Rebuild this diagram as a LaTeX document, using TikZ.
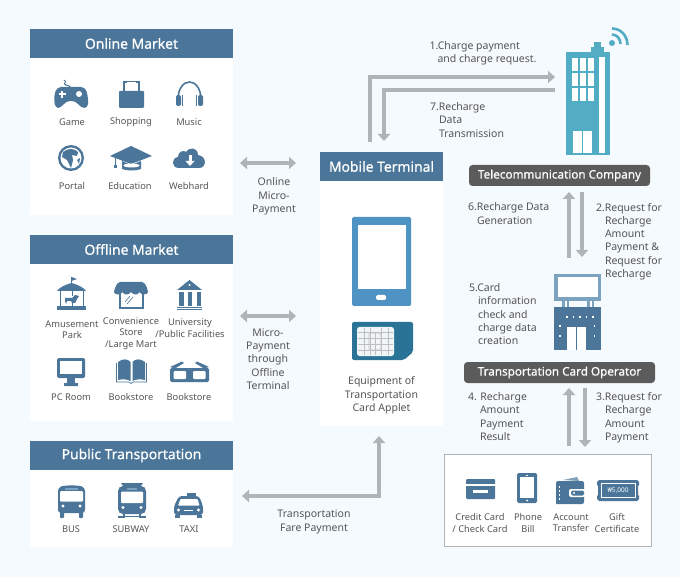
\documentclass[tikz,border=0pt]{standalone}
\usepackage{fontspec}
\setmainfont{Noto Sans}
\usetikzlibrary{arrows.meta}
\definecolor{bgc}{HTML}{F5FAFE}
\definecolor{hdr}{HTML}{4C7699}
\definecolor{txtc}{HTML}{555555}
\definecolor{arr}{HTML}{B0B4B6}
\definecolor{tele}{HTML}{52ADC4}
\definecolor{dark}{HTML}{5B5B5B}
\definecolor{bill}{HTML}{7BA3C0}
\definecolor{phonec}{HTML}{4F92C4}
\definecolor{chipc}{HTML}{2A7396}
\newfontfamily\tagfont[FakeBold=0.6]{Noto Sans}
\newcommand{\hd}[1]{\raisebox{-1pt}{#1}}
\tikzset{
 panel/.style={fill=white,inner sep=0pt,outer sep=0pt,anchor=north west},
 head/.style={fill=hdr,text=white,inner sep=0pt,outer sep=0pt,anchor=north west,font=\tagfont\fontsize{13.9}{16}\selectfont},
 tag/.style={fill=dark,text=white,rounded corners=3.5pt,inner sep=0pt,outer sep=0pt,anchor=north west,font=\tagfont\fontsize{11.7}{14}\selectfont},
 lbl/.style={text=txtc,inner sep=0pt,outer sep=0pt,align=center,font=\fontsize{9.3}{11.4}\selectfont},
 note/.style={text=txtc,inner sep=0pt,outer sep=0pt,align=center,font=\fontsize{10.5}{13.3}\selectfont},
 lnote/.style={note,align=left,anchor=north west},
 conn/.style={draw=arr,line width=4pt},
 tipa/.tip={Triangle[length=7pt,width=12pt]},
}
\begin{document}
\begin{tikzpicture}[x=1pt,y=-1pt]
\useasboundingbox (0,0) rectangle (680,577);
\fill[bgc] (0,0) rectangle (680,577);
% panels
\node[panel,minimum width=203pt,minimum height=186pt] (online) at (30,29) {};
\node[head,minimum width=203pt,minimum height=29pt] (onlineH) at (30,29) {\hd{Online Market}};
\node[panel,minimum width=203pt,minimum height=186pt] (offline) at (30,235) {};
\node[head,minimum width=203pt,minimum height=29pt] (offlineH) at (30,235) {\hd{Offline Market}};
\node[panel,minimum width=203pt,minimum height=106pt] (public) at (30,441) {};
\node[head,minimum width=203pt,minimum height=29pt] (publicH) at (30,441) {\hd{Public Transportation}};
\node[panel,minimum width=123pt,minimum height=274pt] (mobile) at (320,152) {};
\node[head,minimum width=123pt,minimum height=29pt] (mobileH) at (320,152) {\hd{Mobile Terminal}};
\node[panel,draw=arr,line width=1pt,minimum width=207pt,minimum height=92pt] (pay) at (444.5,454.5) {};
\node[tag,minimum width=181pt,minimum height=21pt] (telecom) at (469,165) {\hd{Telecommunication Company}};
\node[tag,minimum width=191pt,minimum height=21pt] (operator) at (464,362) {\hd{Transportation Card Operator}};
% coordinates for connectors
\coordinate (onA) at (240,163); \coordinate (onB) at (296,163);
\coordinate (ofA) at (240,316); \coordinate (ofB) at (296,316);
\coordinate (trA) at (242,496); \coordinate (trB) at (379,436); \coordinate (trC) at (379,496);
\coordinate (c1a) at (370,142); \coordinate (c1b) at (370,77); \coordinate (c1c) at (555,77);
\coordinate (c7a) at (555,90); \coordinate (c7b) at (384,90); \coordinate (c7c) at (384,141);
\coordinate (u6a) at (569,258); \coordinate (u6b) at (569,192);
\coordinate (d2a) at (582,192); \coordinate (d2b) at (582,257);
\coordinate (u4a) at (569,446); \coordinate (u4b) at (569,388);
\coordinate (d3a) at (585,388); \coordinate (d3b) at (585,447);
\draw[conn,{tipa}-{tipa}] (onA) -- (onB);
\draw[conn,{tipa}-{tipa}] (ofA) -- (ofB);
\draw[conn,{tipa}-{tipa}] (trA) -- (trC) -- (trB);
\draw[conn,-{tipa}] (c1a) -- (c1b) -- (c1c);
\draw[conn,-{tipa}] (c7a) -- (c7b) -- (c7c);
\draw[conn,-{tipa}] (u6a) -- (u6b);
\draw[conn,-{tipa}] (d2a) -- (d2b);
\draw[conn,-{tipa}] (u4a) -- (u4b);
\draw[conn,-{tipa}] (d3a) -- (d3b);
% --- Online labels
\node[lbl] (l1) at (72,122) {Game};
\node[lbl] (l2) at (131,122) {Shopping};
\node[lbl] (l3) at (189,122) {Music};
\node[lbl] (l4) at (72,186) {Portal};
\node[lbl] (l5) at (130,186) {Education};
\node[lbl] (l6) at (189,186) {Webhard};
% --- Offline labels
\node[lbl] (l7) at (72,329.5) {Amusement\\Park};
\node[lbl] (l8) at (131,333.5) {Convenience\\Store\\/Large Mart};
\node[lbl] (l9) at (190,328) {University\\/Public Facilities};
\node[lbl] (l10) at (71,397) {PC Room};
\node[lbl] (l11) at (131,397) {Bookstore};
\node[lbl] (l12) at (189,397) {Bookstore};
% --- Public labels
\node[lbl] (l13) at (71,529) {BUS};
\node[lbl] (l14) at (131,529) {SUBWAY};
\node[lbl] (l15) at (189,529) {TAXI};
% --- Middle notes
\node[note] (n1) at (274,196.5) {Online\\Micro-\\Payment};
\node[note] (n2) at (268,359) {Micro-\\Payment\\through\\Offline\\Terminal};
\node[note] (n3) at (314,522) {Transportation\\Fare Payment};
\node[lnote] (n4) at (429.5,41.5) {1.Charge payment\\\hspace*{8pt}and charge request.};
\node[lnote] (n5) at (430,102.5) {7.Recharge\\\hspace*{9pt}Data\\\hspace*{9pt}Transmission};
\node[lnote] (n6) at (468,203) {6.Recharge Data\\\hspace*{9pt}Generation};
\node[lnote] (n7) at (596,203) {2.Request for\\\hspace*{9pt}Recharge\\\hspace*{9pt}Amount\\\hspace*{9pt}Payment \&\\\hspace*{9pt}Request for\\\hspace*{9pt}Recharge};
\node[lnote] (n8) at (469,283.5) {5.Card\\\hspace*{9pt}information\\\hspace*{9pt}check and\\\hspace*{9pt}charge data\\\hspace*{9pt}creation};
\node[lnote] (n9) at (468,392.5) {4. Recharge\\\hspace*{12pt}Amount\\\hspace*{12pt}Payment\\\hspace*{12pt}Result};
\node[lnote] (n10) at (596,392.5) {3.Request for\\\hspace*{9pt}Recharge\\\hspace*{9pt}Amount\\\hspace*{9pt}Payment};
\node[note] (n11) at (381.5,395.5) {Equipment of\\Transportation\\Card Applet};
\node[lbl] (p1) at (480,523) {Credit Card\\/ Check Card};
\node[lbl] (p2) at (528,523) {Phone\\Bill};
\node[lbl] (p3) at (571,523) {Account\\Transfer};
\node[lbl] (p4) at (617,523) {Gift\\Certificate};
% ---------- ICONS: online
% game
\draw[hdr,line width=1pt] (64,80) .. controls (68,82) and (62,84) .. (66,85) .. controls (70,86) and (70,87) .. (71,88);
\fill[hdr,rounded corners=4pt] (55,108) -- (54,96) -- (57,87) -- (85,87) -- (88,96) -- (88,108) -- (81,108) -- (76,101) -- (66,101) -- (61,108) -- cycle;
\fill[white] (61,91) rectangle (63,98); \fill[white] (58.5,93.5) rectangle (65.5,95.5);
\fill[white] (79,94) circle (3pt);
% shopping
\fill[hdr,rounded corners=1pt] (119,91) rectangle (144,108);
\draw[hdr,line width=2pt] (124,91) -- (124,82.5) -- (127,82.5) (136,82.5) -- (139,82.5) -- (139,91);
\draw[hdr,line width=1pt] (127,82) -- (136,82);
% music
\draw[hdr,line width=1.6pt] (178,100) .. controls (178,76) and (201,76) .. (201,100);
\fill[hdr,rounded corners=2pt] (176,95) rectangle (181,106);
\fill[hdr,rounded corners=2pt] (198,95) rectangle (203,106);
\draw[hdr,line width=.8pt] (182.5,95) -- (182.5,106) (196.5,95) -- (196.5,106);
% portal
\fill[hdr] (71,158) circle (13pt);
\fill[white] (71,158) circle (10.5pt);
\fill[hdr] (63,152) .. controls (68,148) and (74,148) .. (78,152) -- (77,156) -- (72,155) -- (73,160) -- (71,168) -- (67,160) -- (62,157) -- cycle;
\fill[hdr] (77,160) -- (80,158) -- (79,164) -- cycle;
% education
\fill[hdr] (131,146) -- (152,156) -- (131,164) -- (110,156) -- cycle;
\fill[hdr] (122,161) -- (131,165) -- (141,161) -- (141,169) .. controls (136,171) and (127,171) .. (122,169) -- cycle;
\fill[white] (131.5,165.5) ellipse (8pt and 2pt);
\draw[hdr,line width=1pt] (115,158) -- (115,166);
\fill[hdr] (113.5,165) rectangle (116.5,168);
% webhard
\fill[hdr] (179,168) .. controls (171,168) and (171,158) .. (178,157) .. controls (178,151) and (184,150) .. (186,152) .. controls (190,146) and (198,148) .. (198,155) .. controls (207,156) and (207,168) .. (199,168) -- cycle;
\fill[white] (188.5,155) rectangle (191.5,161); \fill[white] (185.5,161) -- (194.5,161) -- (190,166) -- cycle;
% ---------- ICONS: offline
% carousel
\draw[hdr,line width=.8pt] (71.5,283) -- (71.5,277);
\fill[hdr] (71.5,277) -- (77,279) -- (71.5,281) -- cycle;
\fill[hdr] (71.5,283) .. controls (64,285) and (59,288) .. (57,291) -- (86,291) .. controls (84,288) and (79,285) .. (71.5,283) -- cycle;
\draw[hdr,line width=.9pt] (60,291) -- (60,307) (83,291) -- (83,307);
\fill[hdr] (57,306) rectangle (86,310);
\fill[hdr] (65,298) -- (72,298) -- (75,295) -- (79,296) -- (77,299) -- (75,303) -- (72,303) -- (71,301) -- (67,301) -- (66,304) -- (65,301) -- cycle;
\draw[hdr,line width=.6pt] (72,291) -- (72,296) (72,302) -- (72,306);
% store
\draw[hdr,line width=2pt] (120,292) -- (120,308) -- (143,308) -- (143,292);
\fill[hdr,rounded corners=2pt] (118,282) -- (144,282) -- (148,290) .. controls (148,295) and (141,295) .. (139.5,291) .. controls (138,295) and (133,295) .. (131,291) .. controls (129,295) and (124,295) .. (122.5,291) .. controls (121,295) and (114,295) .. (114,290) -- cycle;
\draw[hdr,line width=.6pt] (125,302) -- (130,296) (127,304) -- (133,297);
% university
\fill[hdr] (189.5,280) -- (202,290) -- (177,290) -- cycle;
\fill[white] (189.5,285) circle (1.2pt);
\fill[hdr] (179,292) rectangle (183.5,306);
\fill[hdr] (187.5,292) rectangle (192,306);
\fill[hdr] (196.5,292) rectangle (201,306);
\fill[hdr] (177,307) rectangle (202,308);
\fill[hdr] (177,309) rectangle (202,310);
% pc
\fill[hdr,rounded corners=1.5pt] (57,358) rectangle (85,378);
\fill[white] (60,361) rectangle (82,374);
\fill[hdr] (67,378) rectangle (75,383);
\fill[hdr,rounded corners=.5pt] (64,383) rectangle (78,386);
% book
\draw[hdr,line width=.7pt] (116.5,363) -- (116.5,382) -- (129,382) -- (131,383.5) -- (133,382) -- (146.5,382) -- (146.5,363);
\fill[hdr] (118,362) .. controls (123,358) and (128,359) .. (130.5,362) -- (130.5,381) .. controls (127,379) and (122,379) .. (118,380) -- cycle;
\fill[hdr] (132.5,362) .. controls (135,359) and (140,358) .. (145,362) -- (145,380) .. controls (141,379) and (136,379) .. (132.5,381) -- cycle;
% glasses
\fill[hdr,rounded corners=1.5pt] (170,368) rectangle (209,382);
\fill[white,rounded corners=1pt] (173.5,371) rectangle (186,379);
\fill[white,rounded corners=1pt] (193,371) rectangle (205.5,379);
\fill[hdr] (170,367) -- (182,361.5) -- (184,363) -- (175,368.5) -- cycle;
\fill[hdr] (209,367) -- (197,361.5) -- (195,363) -- (204,368.5) -- cycle;
% ---------- ICONS: public
% bus
\fill[hdr,rounded corners=3pt] (58,488) .. controls (64,485) and (79,485) .. (85,488) -- (85,513) -- (58,513) -- cycle;
\fill[hdr,rounded corners=1pt] (60,511) rectangle (64,518);
\fill[hdr,rounded corners=1pt] (79,511) rectangle (83,518);
\fill[white,rounded corners=1pt] (60,491) rectangle (83,501.5);
\fill[bill] (65,488) rectangle (78,489.5);
\fill[white] (63,506) circle (1.6pt); \fill[white] (80,506) circle (1.6pt);
% subway
\fill[hdr] (121,483) -- (143,483) -- (141,486) -- (123,486) -- cycle;
\fill[hdr,rounded corners=5pt] (118,486) rectangle (146,514);
\fill[white,rounded corners=1pt] (121,491.5) rectangle (143,503);
\fill[bill] (127,487.5) rectangle (137,490);
\fill[white] (123,507.5) circle (1.6pt); \fill[white] (141,507.5) circle (1.6pt);
\fill[hdr] (123,514) rectangle (125,516); \fill[hdr] (139,514) rectangle (141,516);
\fill[hdr] (118,516) -- (146,516) -- (146,518) -- (118,518) -- cycle;
\fill[white] (125,516.5) rectangle (139,518);
% taxi
\fill[hdr] (187,493) rectangle (196,496.5);
\fill[hdr,rounded corners=3pt] (179,496) -- (199,496) -- (203,506) -- (203,515) -- (174,515) -- (174,506) -- cycle;
\fill[white,rounded corners=.8pt] (180.5,499) -- (197.5,499) -- (199.5,505.5) -- (178,505.5) -- cycle;
\fill[white] (178.5,510) circle (1.6pt); \fill[white] (198.5,510) circle (1.6pt);
\fill[white] (184,509.5) rectangle (193,510.5);
\fill[hdr] (175,515) rectangle (180,518); \fill[hdr] (197,515) rectangle (202,518);
% ---------- Phone and chip
\fill[phonec,rounded corners=1.5pt] (352,217) rectangle (411,306);
\fill[white] (358,225) rectangle (406,289);
\fill[white,rounded corners=1.5pt] (376,295) rectangle (386,300);
\fill[chipc,rounded corners=2pt] (352,322) -- (413,322) -- (413,352) -- (404,360) -- (352,360) -- cycle;
\fill[white!93!chipc,rounded corners=2.5pt] (357,327) rectangle (394,356);
\draw[black!25,line width=.6pt] (358,332) -- (393,332) (358,338) -- (393,338) (358,344) -- (393,344) (358,350) -- (393,350)
 (364,328) -- (364,355) (370,328) -- (370,355) (381,328) -- (381,355) (388,328) -- (388,355);
\draw[black!25,line width=.6pt,rounded corners=2pt] (369,333) rectangle (381,350);
\draw[black!25,line width=.6pt] (375,333) -- (375,355);
% ---------- Telecom building
\fill[tele] (566,52) rectangle (610,155);
\fill[tele] (591,47) rectangle (604,52);
\fill[tele] (594,42) rectangle (601,47);
\foreach \wx in {572,580,588}{\foreach \wy in {58,73,88}{\fill[white] (\wx,\wy) rectangle +(6,13);}}
\fill[white] (599,57) rectangle (605,153);
\fill[white] (573,131) rectangle (592,153);
\draw[tele,line width=.5pt] (582.5,131) -- (582.5,153);
% wifi
\fill[tele] (612,43) circle (3pt);
\draw[tele,line width=2.6pt] (612,34.5) .. controls (617,34.5) and (620.5,39) .. (620.5,44);
\draw[tele,line width=2.6pt] (612,28.5) .. controls (621,28.5) and (627.5,36) .. (627.5,45);
% ---------- Operator building
\fill[bill] (554,274) rectangle (601,301);
\fill[white] (558,277) rectangle (598,297);
\fill[bill] (562,301) rectangle (569,307); \fill[white] (564.5,301) rectangle (566.5,307);
\fill[bill] (587,301) rectangle (594,307); \fill[white] (589.5,301) rectangle (591.5,307);
\fill[hdr] (554,307) rectangle (601,350);
\fill[white] (567,327) rectangle (586,350);
\draw[hdr,line width=.5pt] (576.5,327) -- (576.5,350);
\foreach \dx in {567,573.5,580,586.5,593}{\fill[white] (\dx-.8,316) rectangle +(1.6,1.6);}
\foreach \dy in {325,335}{\fill[white] (559,\dy) rectangle +(1.6,1.6); \fill[white] (593.5,\dy) rectangle +(1.6,1.6);}
% ---------- Payment icons
% card
\fill[hdr,rounded corners=1pt] (466,479) rectangle (495,499);
\fill[white] (466,484) rectangle (495,486);
\fill[white] (473,490) rectangle (488,492.5);
% phone bill
\fill[hdr,rounded corners=1.5pt] (517,473) rectangle (537,503);
\fill[white] (520,477) rectangle (534,498);
\fill[white] (526,474.5) rectangle (528,475.8);
\fill[white] (527,500.5) circle (1pt);
% wallet
\fill[hdr!70!white] (563,480) -- (577,477) -- (579,481) -- cycle;
\fill[hdr,rounded corners=2pt] (556,481) -- (584,481) -- (584,504) -- (558,504) .. controls (556,504) and (556,502) .. (556,500) -- cycle;
\fill[white,rounded corners=2pt] (569,489) rectangle (585,497);
\fill[hdr,rounded corners=1.5pt] (571,490.5) rectangle (584,495.5);
\fill[white] (574,493) circle (1.2pt);
\foreach \ty in {486,490,494,498}{\fill[white] (559,\ty) rectangle +(1.2,1.5);}
% ticket
\fill[hdr] (597,482) -- (599,480) -- (637,480) -- (639,482) -- (639,485) -- (638,486) -- (638,495) -- (639,496) -- (639,499) -- (637,501) -- (599,501) -- (597,499) -- (597,496) -- (598,495) -- (598,486) -- (597,485) -- cycle;
\draw[white,line width=.6pt] (601,483.5) rectangle (635,497.5);
\node[text=white,inner sep=0pt,font=\fontsize{6.5}{7}\selectfont\bfseries] (tk) at (618,490.5) {₩5,000};
\end{tikzpicture}
\end{document}
